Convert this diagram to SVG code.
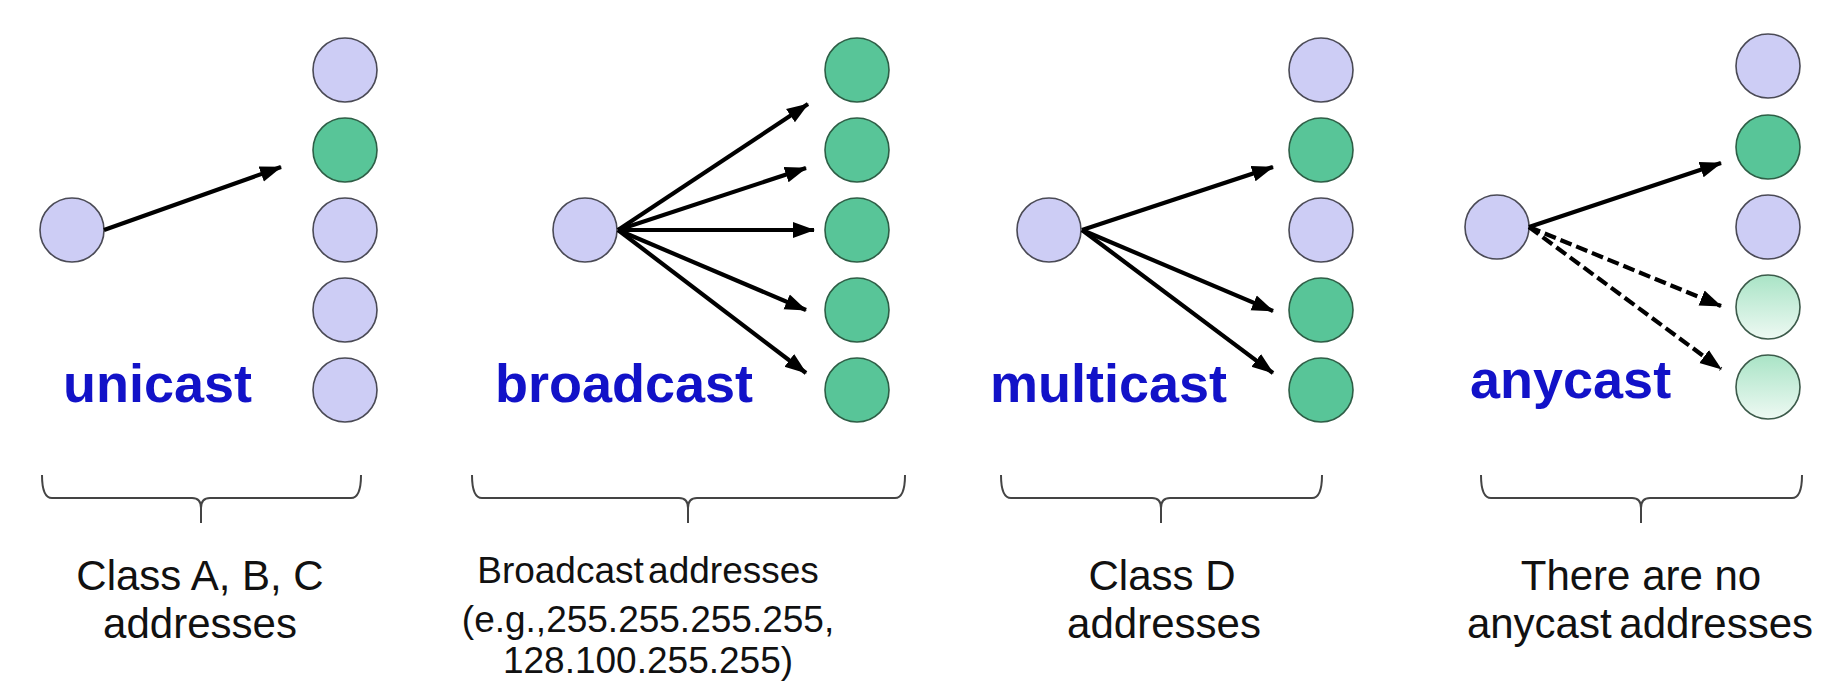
<svg xmlns="http://www.w3.org/2000/svg" width="1832" height="694" viewBox="0 0 1832 694">
<defs>
<marker id="ah" markerUnits="userSpaceOnUse" markerWidth="22" markerHeight="18" viewBox="0 0 22 18" refX="21" refY="9" orient="auto">
<path d="M0,1 L22,9 L0,17 Z" fill="#000"/>
</marker>
<linearGradient id="lg" x1="0" y1="0" x2="0" y2="1">
<stop offset="0" stop-color="#a9e4c6"/>
<stop offset="1" stop-color="#eef9f3"/>
</linearGradient>
<style>
.lav{fill:#cdcdf5;stroke:#4a4a55;stroke-width:1.6}
.grn{fill:#58c598;stroke:#2e5e46;stroke-width:1.6}
.lgr{fill:url(#lg);stroke:#3c5a4a;stroke-width:1.6}
.arr{stroke:#000;stroke-width:4.2;fill:none;marker-end:url(#ah)}
.dash{stroke-dasharray:12 5}
.title{font-family:"Liberation Sans",Arial,sans-serif;font-weight:bold;font-size:54px;fill:#1212c8}
.lbl{font-family:"Liberation Sans",Arial,sans-serif;font-size:42px;fill:#111;text-anchor:middle}
.lbl2{font-family:"Liberation Sans",Arial,sans-serif;font-size:37px;fill:#111;text-anchor:middle}
.br{fill:none;stroke:#444;stroke-width:2}
</style>
</defs>
<rect width="1832" height="694" fill="#fff"/>

<g id="unicast">
<circle class="lav" cx="72" cy="230" r="32"/>
<circle class="lav" cx="345" cy="70" r="32"/>
<circle class="grn" cx="345" cy="150" r="32"/>
<circle class="lav" cx="345" cy="230" r="32"/>
<circle class="lav" cx="345" cy="310" r="32"/>
<circle class="lav" cx="345" cy="390" r="32"/>
<text class="title" x="63" y="402">unicast</text>
</g>

<g id="broadcast">
<circle class="lav" cx="585" cy="230" r="32"/>
<circle class="grn" cx="857" cy="70" r="32"/>
<circle class="grn" cx="857" cy="150" r="32"/>
<circle class="grn" cx="857" cy="230" r="32"/>
<circle class="grn" cx="857" cy="310" r="32"/>
<circle class="grn" cx="857" cy="390" r="32"/>
<text class="title" x="495" y="402">broadcast</text>
</g>

<g id="multicast">
<circle class="lav" cx="1049" cy="230" r="32"/>
<circle class="lav" cx="1321" cy="70" r="32"/>
<circle class="grn" cx="1321" cy="150" r="32"/>
<circle class="lav" cx="1321" cy="230" r="32"/>
<circle class="grn" cx="1321" cy="310" r="32"/>
<circle class="grn" cx="1321" cy="390" r="32"/>
<text class="title" x="990" y="402">multicast</text>
</g>

<g id="anycast">
<circle class="lav" cx="1497" cy="227" r="32"/>
<circle class="lav" cx="1768" cy="66" r="32"/>
<circle class="grn" cx="1768" cy="147" r="32"/>
<circle class="lav" cx="1768" cy="227" r="32"/>
<circle class="lgr" cx="1768" cy="307" r="32"/>
<circle class="lgr" cx="1768" cy="387" r="32"/>
<text class="title" x="1470" y="398">anycast</text>
</g>

<g id="connectors">
<line class="arr" x1="104" y1="230" x2="281" y2="167"/>
<line class="arr" x1="618" y1="230" x2="808" y2="104"/>
<line class="arr" x1="618" y1="230" x2="806" y2="168"/>
<line class="arr" x1="618" y1="230" x2="814" y2="230"/>
<line class="arr" x1="618" y1="230" x2="806" y2="310"/>
<line class="arr" x1="618" y1="230" x2="806" y2="373"/>
<line class="arr" x1="1082" y1="230" x2="1273" y2="167"/>
<line class="arr" x1="1082" y1="230" x2="1273" y2="311"/>
<line class="arr" x1="1082" y1="230" x2="1273" y2="373"/>
<line class="arr" x1="1529" y1="227" x2="1721" y2="163"/>
<line class="arr dash" x1="1529" y1="227" x2="1721" y2="306"/>
<line class="arr dash" x1="1529" y1="227" x2="1721" y2="369"/>
</g>

<g id="brace-unicast">
<path class="br" d="M42,475 Q42,498 52,498 L192,498 Q201,498 201,508 L201,523 M201,508 Q201,498 210,498 L351,498 Q361,498 361,475"/>
<text class="lbl" x="200" y="590">Class A, B, C</text>
<text class="lbl" x="200" y="638">addresses</text>
</g>

<g id="brace-broadcast">
<path class="br" d="M472,475 Q472,498 482,498 L679,498 Q688,498 688,508 L688,523 M688,508 Q688,498 697,498 L895,498 Q905,498 905,475"/>
<text class="lbl2" x="648" y="583" word-spacing="-6">Broadcast addresses</text>
<text class="lbl2" x="648" y="632">(e.g.,255.255.255.255,</text>
<text class="lbl2" x="648" y="673">128.100.255.255)</text>
</g>

<g id="brace-multicast">
<path class="br" d="M1001,475 Q1001,498 1011,498 L1152,498 Q1161,498 1161,508 L1161,523 M1161,508 Q1161,498 1170,498 L1312,498 Q1322,498 1322,475"/>
<text class="lbl" x="1162" y="590">Class D</text>
<text class="lbl" x="1164" y="638">addresses</text>
</g>

<g id="brace-anycast">
<path class="br" d="M1481,475 Q1481,498 1491,498 L1632,498 Q1641,498 1641,508 L1641,523 M1641,508 Q1641,498 1650,498 L1792,498 Q1802,498 1802,475"/>
<text class="lbl" x="1641" y="590">There are no</text>
<text class="lbl" x="1640" y="638" word-spacing="-4">anycast addresses</text>
</g>
</svg>
